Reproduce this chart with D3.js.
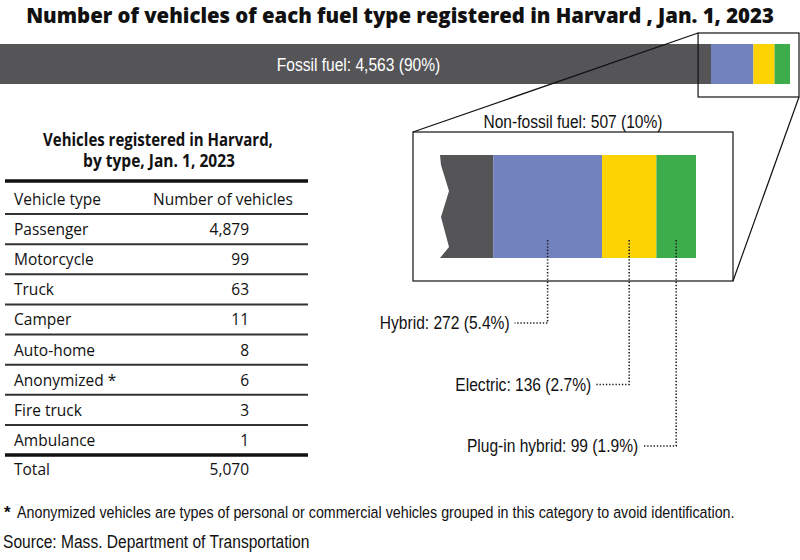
<!DOCTYPE html>
<html>
<head>
<meta charset="utf-8">
<script src="https://cdn.jsdelivr.net/npm/d3@7"></script>
<style>
  body { margin: 0; background: #fff; }
  svg { display: block; }
</style>
</head>
<body>
<svg width="800" height="560"></svg>
<script>
// fuel type data
const fuelTypes  = ['Fossil fuel', 'Hybrid', 'Electric', 'Plug-in hybrid'];
const fuelCounts = [4563, 272, 136, 99];
const fuelPcts   = ['90%', '5.4%', '2.7%', '1.9%'];
const fuelColors = ['#555558', '#7282bf', '#fdd304', '#3dac4a'];

// vehicle type table
const vehicleTypes  = ['Passenger', 'Motorcycle', 'Truck', 'Camper', 'Auto-home', 'Anonymized *', 'Fire truck', 'Ambulance'];
const vehicleCounts = [4879, 99, 63, 11, 8, 6, 3, 1];
const vehicleTotal  = 5070;

const svg = d3.select('svg');
const width  = +svg.attr('width');
const height = +svg.attr('height');
const fmt = d3.format(',');

const total = d3.sum(fuelCounts);
const stack = fuelCounts.map((v, i) => {
  const start = d3.sum(fuelCounts.slice(0, i));
  return { type: fuelTypes[i], value: v, pct: fuelPcts[i], color: fuelColors[i], start, end: start + v };
});
const nonFossil = stack.slice(1);
const nonFossilTotal = d3.sum(nonFossil, d => d.value);

// narrow sans labels (squeezed horizontally)
const narrow = (g, x, y, str, anchor, size, fill) =>
  g.append('text')
    .attr('transform', `translate(${x},${y}) scale(0.82,1)`)
    .attr('text-anchor', anchor)
    .attr('font-family', '"Liberation Sans", Arial, sans-serif')
    .attr('font-size', size)
    .attr('fill', fill || '#111')
    .text(str);

// condensed bold heading: squeeze to a given width
const heading = (g, x, y, str, size, weight, w) => {
  const t = g.append('text')
    .attr('text-anchor', 'middle')
    .attr('font-family', '"Open Sans", sans-serif')
    .attr('font-weight', weight)
    .attr('font-size', size)
    .attr('fill', '#111')
    .text(str);
  const k = w / t.node().getComputedTextLength();
  t.attr('transform', `translate(${x},${y}) scale(${k},1)`);
  return t;
};

// title
heading(svg, width / 2, 23, 'Number of vehicles of each fuel type registered in Harvard , Jan. 1, 2023', 21.5, 800, 748);

// top stacked bar
const xScale = d3.scaleLinear().domain([0, total]).range([0, 790]);
const barTop = 44, barH = 40;

svg.append('g').selectAll('rect')
  .data(stack)
  .join('rect')
  .attr('x', d => xScale(d.start))
  .attr('y', barTop)
  .attr('width', d => xScale(d.end) - xScale(d.start))
  .attr('height', barH)
  .attr('fill', d => d.color);

narrow(svg, (xScale(stack[0].start) + xScale(stack[0].end)) / 2 + 3, barTop + barH / 2 + 7,
  `Fossil fuel: ${fmt(stack[0].value)} (${stack[0].pct})`, 'middle', 19, '#fff');

// zoom window on the top bar
const boxFrom = 4480;
const smallBox = { x0: xScale(boxFrom), x1: xScale(total) + 9, y0: barTop - 11, y1: barTop + barH + 13 };
svg.append('rect')
  .attr('x', smallBox.x0).attr('y', smallBox.y0)
  .attr('width', smallBox.x1 - smallBox.x0).attr('height', smallBox.y1 - smallBox.y0)
  .attr('fill', 'none').attr('stroke', '#111').attr('stroke-width', 1.2);

// magnified view
const zx = d3.scaleLinear().domain([4430, total]).range([440, 696]);
const zTop = 155, zH = 103;
const bigBox = { x0: 413, x1: 733, y0: 132, y1: 281 };

svg.append('rect')
  .attr('x', bigBox.x0).attr('y', bigBox.y0)
  .attr('width', bigBox.x1 - bigBox.x0).attr('height', bigBox.y1 - bigBox.y0)
  .attr('fill', '#fff').attr('stroke', '#111').attr('stroke-width', 1.2);

svg.append('line')
  .attr('x1', bigBox.x0).attr('y1', bigBox.y0)
  .attr('x2', smallBox.x0).attr('y2', smallBox.y0)
  .attr('stroke', '#111').attr('stroke-width', 1.2);
svg.append('line')
  .attr('x1', bigBox.x1).attr('y1', bigBox.y1)
  .attr('x2', smallBox.x1).attr('y2', smallBox.y1)
  .attr('stroke', '#111').attr('stroke-width', 1.2);

narrow(svg, (bigBox.x0 + bigBox.x1) / 2, bigBox.y0 - 4,
  `Non-fossil fuel: ${nonFossilTotal} (10%)`, 'middle', 19);

// fossil piece with broken (zigzag) left edge
const fx0 = zx.range()[0], fx1 = zx(stack[0].end);
const zig = [[fx0, zTop], [fx0 + 1, zTop + 10], [fx0 + 9, zTop + 36], [fx0 + 1, zTop + 62],
             [fx0 + 9, zTop + 92], [fx0, zTop + zH], [fx1, zTop + zH], [fx1, zTop]];
svg.append('path')
  .attr('d', d3.line()(zig) + 'Z')
  .attr('fill', stack[0].color);

svg.append('g').selectAll('rect')
  .data(nonFossil)
  .join('rect')
  .attr('x', d => zx(d.start))
  .attr('y', zTop)
  .attr('width', d => zx(d.end) - zx(d.start))
  .attr('height', zH)
  .attr('fill', d => d.color);

// dotted leaders and labels
const labelY = d3.scalePoint().domain(nonFossil.map(d => d.type)).range([323, 446]);
const leader = d3.line();
nonFossil.forEach(d => {
  const cx = zx((d.start + d.end) / 2);
  const ly = labelY(d.type);
  svg.append('path')
    .attr('d', leader([[cx, 240], [cx, ly], [cx - 33, ly]]))
    .attr('fill', 'none')
    .attr('stroke', '#222')
    .attr('stroke-width', 1.6)
    .attr('stroke-dasharray', '1.4,1.8');
  narrow(svg, cx - 38, ly + 6, `${d.type}: ${d.value} (${d.pct})`, 'end', 19);
});

// table
const tbl = svg.append('g').attr('font-family', '"Open Sans", sans-serif').attr('fill', '#111');
const tLeft = 5, tRight = 308, colX = 14, valX = 249;

heading(tbl, 158, 146, 'Vehicles registered in Harvard,', 17, 'bold', 230);
heading(tbl, 159, 167, 'by type, Jan. 1, 2023', 17, 'bold', 152);

const yRow = d3.scaleBand().domain(vehicleTypes).range([214, 455]);
const rule = (y, w, c) => tbl.append('line')
  .attr('x1', tLeft).attr('x2', tRight).attr('y1', y).attr('y2', y)
  .attr('stroke', c).attr('stroke-width', w);

rule(181, 3.5, '#111');
tbl.append('text').attr('x', colX).attr('y', 205).attr('font-size', 15.5).text('Vehicle type');
tbl.append('text').attr('x', 153).attr('y', 205).attr('font-size', 15.5).text('Number of vehicles');
rule(yRow.range()[0], 2, '#333');

const rows = tbl.selectAll('g.row')
  .data(vehicleTypes.map((t, i) => ({ t, v: vehicleCounts[i] })))
  .join('g').attr('class', 'row')
  .attr('transform', d => `translate(0,${yRow(d.t)})`);
rows.append('text').attr('x', colX).attr('y', yRow.bandwidth() / 2 + 6).attr('font-size', 15.5).text(d => d.t);
rows.append('text').attr('x', valX).attr('y', yRow.bandwidth() / 2 + 6).attr('font-size', 15.5)
  .attr('text-anchor', 'end').text(d => fmt(d.v));
vehicleTypes.slice(0, -1).forEach(t => rule(yRow(t) + yRow.bandwidth(), 2, '#333'));
rule(yRow.range()[1], 3.5, '#111');

tbl.append('text').attr('x', colX).attr('y', yRow.range()[1] + 20).attr('font-size', 15.5).text('Total');
tbl.append('text').attr('x', valX).attr('y', yRow.range()[1] + 20).attr('font-size', 15.5)
  .attr('text-anchor', 'end').text(fmt(vehicleTotal));

// footnotes
svg.append('text')
  .attr('x', 4).attr('y', 518)
  .attr('font-family', '"Liberation Sans", Arial, sans-serif')
  .attr('font-weight', 'bold').attr('font-size', 17).attr('fill', '#111')
  .text('*');
narrow(svg, 17, 518, 'Anonymized vehicles are types of personal or commercial vehicles grouped in this category to avoid identification.', 'start', 17.4);
narrow(svg, 3, 548, 'Source: Mass. Department of Transportation', 'start', 19);
</script>
</body>
</html>
